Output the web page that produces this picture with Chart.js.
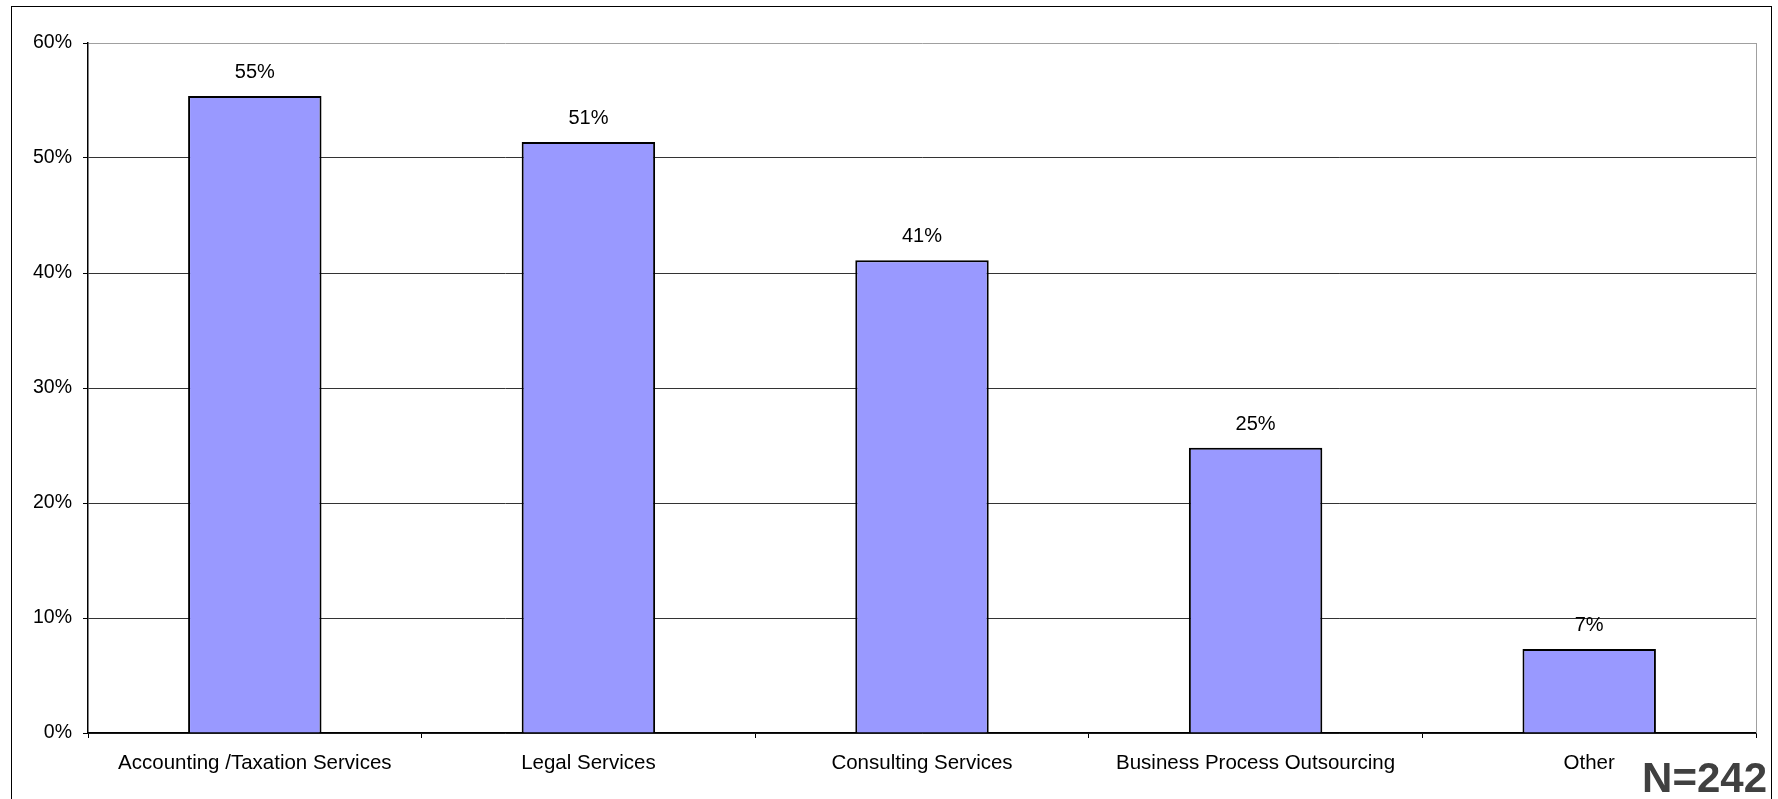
<!DOCTYPE html>
<html>
<head>
<meta charset="utf-8">
<script src="https://cdn.jsdelivr.net/npm/chart.js@4/dist/chart.umd.min.js"></script>
<style>
  body { margin: 0; background: #fff; }
  canvas { display: block; }
</style>
</head>
<body>
<canvas id="chart" width="1778" height="799"></canvas>
<script>
const categories = ["Accounting /Taxation Services", "Legal Services", "Consulting Services", "Business Process Outsourcing", "Other"];
const shares = [55.4, 51.4, 41.1, 24.8, 7.3];
const yTicks = [0, 10, 20, 30, 40, 50, 60];
const sampleNote = "N=242";

const FONT = "Liberation Sans, Arial, sans-serif";

// frame, right border and value labels
const extras = {
  id: "extras",
  afterDraw(chart) {
    const ctx = chart.ctx;
    const area = chart.chartArea;
    ctx.save();

    // outer frame (bottom edge runs off the picture)
    ctx.strokeStyle = "#000";
    ctx.lineWidth = 1;
    ctx.strokeRect(11.5, 6.5, 1760, 900);

    // right plot border
    ctx.strokeStyle = "#a0a0a0";
    ctx.beginPath();
    ctx.moveTo(Math.round(area.right) + 0.5, area.top);
    ctx.lineTo(Math.round(area.right) + 0.5, area.bottom);
    ctx.stroke();

    // value labels above bars
    ctx.fillStyle = "#000";
    ctx.font = "20px " + FONT;
    ctx.textAlign = "center";
    ctx.textBaseline = "alphabetic";
    chart.getDatasetMeta(0).data.forEach((bar, i) => {
      ctx.fillText(Math.round(shares[i]) + "%", bar.x, bar.y - 18);
    });

    // sample size note
    ctx.fillStyle = "#404040";
    ctx.font = "bold 42px " + FONT;
    ctx.textAlign = "right";
    ctx.fillText(sampleNote, 1767, 792);
    ctx.restore();
  }
};

new Chart(document.getElementById("chart"), {
  type: "bar",
  data: {
    labels: categories,
    datasets: [{
      data: shares,
      backgroundColor: "#9999ff",
      borderColor: "#000",
      borderWidth: 2,
      barPercentage: 0.4,
      categoryPercentage: 1
    }]
  },
  options: {
    responsive: false,
    animation: false,
    layout: { padding: { top: 43, right: 22, left: 0, bottom: 0 } },
    plugins: { legend: { display: false }, tooltip: { enabled: false } },
    scales: {
      x: {
        grid: { offset: true, drawOnChartArea: false, drawTicks: true, tickLength: 5, color: "#000" },
        border: { color: "#000", width: 1.5 },
        ticks: { color: "#000", font: { family: FONT, size: 20.5 }, padding: 13, maxRotation: 0, autoSkip: false },
        afterFit(scale) { scale.height = 66; }
      },
      y: {
        min: 0,
        max: 60,
        afterBuildTicks(scale) { scale.ticks = yTicks.map(v => ({ value: v })); },
        grid: {
          color: c => c.tick && c.tick.value === 60 ? "#a0a0a0" : "#333",
          lineWidth: 1,
          tickLength: 5,
          tickColor: "#000"
        },
        border: { color: "#000", width: 1.5 },
        ticks: {
          color: "#000",
          font: { family: FONT, size: 19.5 },
          padding: 11,
          callback: v => v + "%"
        },
        afterFit(scale) { scale.width = 88; }
      }
    }
  },
  plugins: [extras]
});
</script>
</body>
</html>
